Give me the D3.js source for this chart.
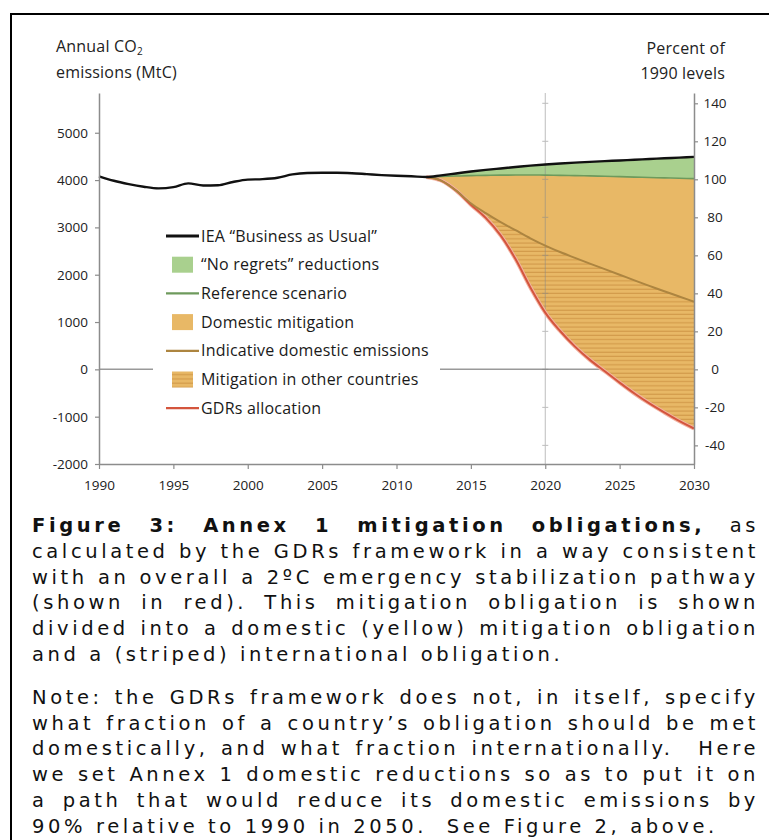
<!DOCTYPE html>
<html>
<head>
<meta charset="utf-8">
<script src="https://cdn.jsdelivr.net/npm/d3@7"></script>
<style>
  html, body { margin: 0; padding: 0; background: #fff; }
  body { width: 769px; height: 840px; position: relative; overflow: hidden; }
  #frame { position: absolute; left: 10px; top: 13px; width: 800px; height: 900px;
           border: 2.5px solid #000; box-sizing: border-box; }
  #chart { position: absolute; left: 0; top: 0; }
  #caption { position: absolute; left: 32px; top: 513px; width: 727px;
             font-family: "DejaVu Sans"; font-size: 19.5px; letter-spacing: 3.6px;
             line-height: 25.8px; color: #111; }
  #caption .ln { white-space: pre-wrap; text-align: justify; text-align-last: justify; }
  #caption .last { text-align: left; text-align-last: left; }
  #caption .gap { height: 17px; }
</style>
</head>
<body>
<div id="frame"></div>
<div id="chart"></div>
<div id="caption"></div>
<script>
// historical emissions (MtC)
const histYears = [1990, 1991, 1992, 1993, 1994, 1995, 1996, 1997, 1998, 1999, 2000, 2001,
                   2002, 2003, 2004, 2005, 2006, 2007, 2008, 2009, 2010, 2011, 2012];
const histEmissions = [4080, 3985, 3915, 3860, 3825, 3850, 3930, 3885, 3890, 3960, 4010, 4020,
                       4050, 4120, 4150, 4155, 4155, 4145, 4125, 4105, 4090, 4080, 4065];

// projections 2012-2030
const projYears = [2012, 2013, 2014, 2015, 2016, 2017, 2018, 2019, 2020, 2021,
                   2022, 2023, 2024, 2025, 2026, 2027, 2028, 2029, 2030];
const bauValues = [4065, 4100, 4140, 4180, 4215, 4245, 4275, 4305, 4330, 4350,
                   4368, 4385, 4400, 4415, 4430, 4445, 4460, 4475, 4490];
const refValues = [4065, 4075, 4085, 4093, 4100, 4104, 4106, 4107, 4105, 4100,
                   4095, 4088, 4080, 4072, 4063, 4055, 4046, 4038, 4030];
const domesticValues = [4065, 3990, 3780, 3510, 3300, 3110, 2940, 2770, 2615, 2480,
                        2355, 2235, 2118, 2000, 1880, 1765, 1650, 1540, 1430];
const gdrsValues = [4065, 3990, 3780, 3480, 3200, 2830, 2330, 1730, 1200, 810,
                    480, 200, -40, -280, -510, -720, -910, -1090, -1250];

const leftTicks = [-2000, -1000, 0, 1000, 2000, 3000, 4000, 5000];
const rightTicks = [-40, -20, 0, 20, 40, 60, 80, 100, 120, 140];
const xTicks = [1990, 1995, 2000, 2005, 2010, 2015, 2020, 2025, 2030];
const base1990 = 4016;

const legendItems = [
  { label: "IEA \u201cBusiness as Usual\u201d", type: "line", color: "#111" },
  { label: "\u201cNo regrets\u201d reductions", type: "box", color: "#a9d08e" },
  { label: "Reference scenario", type: "line", color: "#6e9a5c" },
  { label: "Domestic mitigation", type: "box", color: "#e8b866" },
  { label: "Indicative domestic emissions", type: "line", color: "#ad8540" },
  { label: "Mitigation in other countries", type: "stripes", color: "#e8b866" },
  { label: "GDRs allocation", type: "line", color: "#d4553d" }
];

const captionPara1 = [
  ["Figure 3: Annex 1 mitigation obligations,", " as"],
  "calculated by the GDRs framework in a way consistent",
  "with an overall a 2\u00baC emergency stabilization pathway",
  "(shown in red). This mitigation obligation is shown",
  "divided into a domestic (yellow) mitigation obligation",
  "and a (striped) international obligation."
];
const captionPara2 = [
  "Note: the GDRs framework does not, in itself, specify",
  "what fraction of a country\u2019s obligation should be met",
  "domestically, and what fraction internationally.  Here",
  "we set Annex 1 domestic reductions so as to put it on",
  "a path that would reduce its domestic emissions by",
  "90% relative to 1990 in 2050.  See Figure 2, above."
];

const width = 769, height = 510;
const axisColor = "#8c8c8c";
const tickFont = "'Open Sans', sans-serif";
const plain = d => String(d);

const svg = d3.select("#chart").append("svg")
  .attr("width", width).attr("height", height);

const x = d3.scaleLinear().domain([1990, 2030]).range([99, 694]);
const y = d3.scaleLinear().domain([-2000, 5840]).range([464, 93]);
const yPct = d3.scaleLinear()
  .domain([-2000 / base1990 * 100, 5840 / base1990 * 100])
  .range([464, 93]);

const proj = projYears.map((yr, i) => ({
  yr, bau: bauValues[i], ref: refValues[i], dom: domesticValues[i], gdr: gdrsValues[i]
}));
const bauAll = histYears.map((yr, i) => ({ yr, v: histEmissions[i] }))
  .concat(proj.slice(1).map(d => ({ yr: d.yr, v: d.bau })));

// stripe pattern
const defs = svg.append("defs");
const pat = defs.append("pattern")
  .attr("id", "stripes").attr("patternUnits", "userSpaceOnUse")
  .attr("width", 8).attr("height", 4.2);
pat.append("rect").attr("width", 8).attr("height", 4.2).attr("fill", "#e8b866");
pat.append("line").attr("x1", 0).attr("x2", 8).attr("y1", 3.6).attr("y2", 3.6)
  .attr("stroke", "#cf9646").attr("stroke-width", 1);

// zero line
svg.append("line")
  .attr("x1", x(1990)).attr("x2", x(2030))
  .attr("y1", y(0)).attr("y2", y(0))
  .attr("stroke", "#999").attr("stroke-width", 1.5);

const curve = d3.curveMonotoneX;
const area = (top, bot) => d3.area()
  .x(d => x(d.yr)).y0(d => y(d[bot])).y1(d => y(d[top])).curve(curve);

svg.append("path").datum(proj).attr("d", area("bau", "ref")).attr("fill", "#a9d08e");
svg.append("path").datum(proj).attr("d", area("ref", "gdr")).attr("fill", "#e8b866");
svg.append("path").datum(proj).attr("d", area("dom", "gdr")).attr("fill", "url(#stripes)");

// 2020 gridline with small cross ticks
const grid = svg.append("g").attr("stroke", "#888").attr("opacity", 0.55);
grid.append("line")
  .attr("x1", x(2020)).attr("x2", x(2020))
  .attr("y1", y(5840)).attr("y2", y(-2000));
grid.selectAll(".cross").data(rightTicks).join("line")
  .attr("x1", x(2020) - 3).attr("x2", x(2020) + 3)
  .attr("y1", d => yPct(d)).attr("y2", d => yPct(d));

const lineOf = key => d3.line().x(d => x(d.yr)).y(d => y(d[key])).curve(curve);

svg.append("path").datum(proj).attr("d", lineOf("gdr"))
  .attr("fill", "none").attr("stroke", "#f2b4a4").attr("stroke-width", 4);
svg.append("path").datum(proj).attr("d", lineOf("gdr"))
  .attr("fill", "none").attr("stroke", "#d4553d").attr("stroke-width", 2);
svg.append("path").datum(proj).attr("d", lineOf("dom"))
  .attr("fill", "none").attr("stroke", "#ad8540").attr("stroke-width", 2);
svg.append("path").datum(proj).attr("d", lineOf("ref"))
  .attr("fill", "none").attr("stroke", "#6e9a5c").attr("stroke-width", 1.6);
svg.append("path").datum(bauAll)
  .attr("d", d3.line().x(d => x(d.yr)).y(d => y(d.v)).curve(curve))
  .attr("fill", "none").attr("stroke", "#111").attr("stroke-width", 2.4);

// axes
function styleAxis(g) {
  g.select(".domain").attr("stroke", axisColor).attr("stroke-width", 1.5);
  g.selectAll(".tick line").attr("stroke", axisColor).attr("stroke-width", 1.2);
  g.selectAll(".tick text").attr("fill", "#222")
    .style("font-family", tickFont).style("font-size", "13.5px");
}

svg.append("g").attr("transform", `translate(${x(1990)},0)`)
  .call(d3.axisLeft(y).tickValues(leftTicks).tickFormat(plain)
    .tickSize(4).tickSizeOuter(0).tickPadding(7))
  .call(styleAxis);

svg.append("g").attr("transform", `translate(${x(2030)},0)`)
  .call(d3.axisRight(yPct).tickValues(rightTicks).tickFormat(plain)
    .tickSize(4).tickSizeOuter(0))
  .call(styleAxis)
  .call(g => g.selectAll(".tick text").attr("x", 21).attr("text-anchor", "middle"));

svg.append("g").attr("transform", `translate(0,${y(-2000)})`)
  .call(d3.axisBottom(x).tickValues(xTicks).tickFormat(plain)
    .tickSize(5).tickSizeOuter(0).tickPadding(11))
  .call(styleAxis);

// legend
const legend = svg.append("g");
legend.append("rect").attr("x", 153).attr("y", 220).attr("width", 287).attr("height", 200)
  .attr("fill", "#fff");
const rows = legend.selectAll(".row").data(legendItems).join("g")
  .attr("transform", (d, i) => `translate(0,${236 + i * 28.7})`);
rows.filter(d => d.type === "line").append("line")
  .attr("x1", 166).attr("x2", 199).attr("y1", 0).attr("y2", 0)
  .attr("stroke", d => d.color).attr("stroke-width", (d, i) => i === 0 ? 3 : 2.2);
rows.filter(d => d.type !== "line").append("rect")
  .attr("x", 172).attr("y", -8).attr("width", 21).attr("height", 16)
  .attr("fill", d => d.type === "stripes" ? "url(#stripes)" : d.color);
rows.append("text")
  .attr("x", 201).attr("y", 0).attr("dy", "0.35em")
  .attr("fill", "#1a1a1a")
  .style("font-family", tickFont).style("font-size", "16px").style("letter-spacing", "0.2px")
  .text(d => d.label);

// axis titles
const titleStyle = t => t.attr("fill", "#222").style("font-family", tickFont)
  .style("font-size", "16px").style("letter-spacing", "0.2px");
const lt = svg.append("text").attr("x", 56).attr("y", 52).call(titleStyle);
lt.append("tspan").text("Annual CO");
lt.append("tspan").attr("font-size", "10px").attr("dy", 3).text("2");
svg.append("text").attr("x", 56).attr("y", 78).call(titleStyle).text("emissions (MtC)");
svg.append("text").attr("x", 725).attr("y", 54).attr("text-anchor", "end")
  .call(titleStyle).text("Percent of");
svg.append("text").attr("x", 725).attr("y", 79).attr("text-anchor", "end")
  .call(titleStyle).text("1990 levels");

// caption
const cap = d3.select("#caption");
function addPara(lines) {
  lines.forEach((ln, i) => {
    const div = cap.append("div").attr("class", i === lines.length - 1 ? "ln last" : "ln");
    if (Array.isArray(ln)) {
      div.append("b").text(ln[0]);
      div.append("span").text(ln[1]);
    } else {
      div.text(ln);
    }
  });
}
addPara(captionPara1);
cap.append("div").attr("class", "gap");
addPara(captionPara2);
</script>
</body>
</html>
